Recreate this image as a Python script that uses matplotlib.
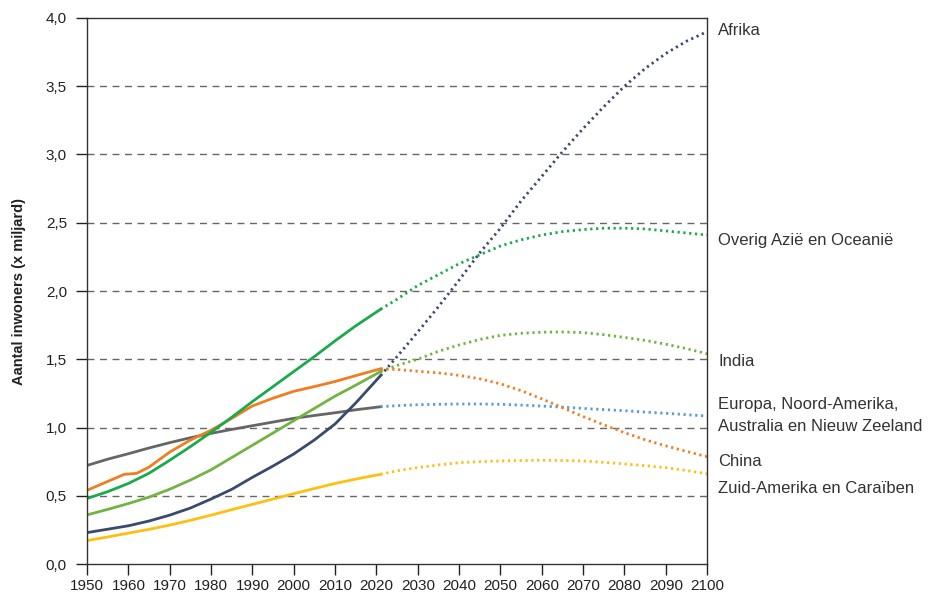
import matplotlib.pyplot as plt

plt.rcParams['font.family'] = ['Liberation Sans', 'DejaVu Sans']

# historie (doorgetrokken lijnen)
jaren_hist = [1950, 1955, 1960, 1965, 1970, 1975, 1980, 1985, 1990, 1995,
              2000, 2005, 2010, 2015, 2021]
afrika_hist = [0.23, 0.255, 0.28, 0.315, 0.358, 0.41, 0.476, 0.547, 0.635,
               0.718, 0.806, 0.909, 1.026, 1.18, 1.38]
azie_hist = [0.48, 0.53, 0.59, 0.665, 0.76, 0.86, 0.965, 1.075, 1.19, 1.30,
             1.41, 1.52, 1.635, 1.745, 1.866]
india_hist = [0.36, 0.40, 0.443, 0.49, 0.548, 0.615, 0.69, 0.78, 0.87, 0.96,
              1.05, 1.14, 1.23, 1.31, 1.41]
europa_hist = [0.722, 0.768, 0.808, 0.85, 0.889, 0.925, 0.957, 0.986, 1.013,
               1.04, 1.067, 1.088, 1.108, 1.13, 1.152]
zuidam_hist = [0.172, 0.198, 0.226, 0.254, 0.285, 0.32, 0.358, 0.398, 0.437,
               0.476, 0.515, 0.553, 0.59, 0.622, 0.657]

jaren_china = [1950, 1955, 1959, 1962, 1965, 1970, 1975, 1980, 1985, 1990,
               1995, 2000, 2005, 2010, 2015, 2021]
china_hist = [0.54, 0.605, 0.657, 0.664, 0.71, 0.82, 0.908, 0.98, 1.067,
              1.158, 1.215, 1.265, 1.30, 1.337, 1.38, 1.43]

# prognose (stippellijnen)
jaren_prog = [2021, 2025, 2030, 2035, 2040, 2045, 2050, 2055, 2060, 2065,
              2070, 2075, 2080, 2085, 2090, 2095, 2100]
afrika_prog = [1.38, 1.52, 1.70, 1.885, 2.08, 2.28, 2.46, 2.66, 2.84, 3.02,
               3.19, 3.35, 3.50, 3.63, 3.74, 3.83, 3.90]
azie_prog = [1.866, 1.94, 2.04, 2.12, 2.20, 2.265, 2.33, 2.375, 2.41, 2.435,
             2.45, 2.46, 2.46, 2.455, 2.44, 2.425, 2.41]
india_prog = [1.41, 1.455, 1.50, 1.558, 1.605, 1.645, 1.675, 1.69, 1.698,
              1.70, 1.695, 1.68, 1.66, 1.638, 1.61, 1.578, 1.54]
china_prog = [1.43, 1.425, 1.412, 1.40, 1.382, 1.357, 1.32, 1.27, 1.21,
              1.145, 1.08, 1.02, 0.962, 0.91, 0.865, 0.825, 0.786]
europa_prog = [1.152, 1.16, 1.167, 1.17, 1.172, 1.172, 1.17, 1.164, 1.157,
               1.149, 1.14, 1.131, 1.123, 1.113, 1.104, 1.094, 1.084]
zuidam_prog = [0.657, 0.683, 0.706, 0.726, 0.742, 0.75, 0.755, 0.758, 0.76,
               0.758, 0.755, 0.745, 0.733, 0.72, 0.706, 0.685, 0.66]

labels = ['Afrika', 'Overig Azië en Oceanië', 'India',
          'Europa, Noord-Amerika,\nAustralia en Nieuw Zeeland', 'China',
          'Zuid-Amerika en Caraïben']
label_y = [3.91, 2.37, 1.48, 1.09, 0.75, 0.555]

fig = plt.figure(figsize=(9.41, 5.94), dpi=100)
ax = fig.add_axes([0.0925, 0.0505, 0.659, 0.9192])

dot = (0, (0.8, 1.3))
lw = 2.0

ax.plot(jaren_hist, zuidam_hist, color='#fcbf12', lw=lw)
ax.plot(jaren_prog, zuidam_prog, color='#fcbf12', lw=lw, ls=dot)
ax.plot(jaren_hist, europa_hist, color='#666666', lw=lw)
ax.plot(jaren_prog, europa_prog, color='#5b9bd5', lw=lw, ls=dot)
ax.plot(jaren_hist, afrika_hist, color='#3a4a6b', lw=lw)
ax.plot(jaren_prog, afrika_prog, color='#3a4a6b', lw=lw, ls=dot)
ax.plot(jaren_hist, india_hist, color='#72b443', lw=lw)
ax.plot(jaren_prog, india_prog, color='#72b443', lw=lw, ls=dot)
ax.plot(jaren_china, china_hist, color='#f07d22', lw=lw)
ax.plot(jaren_prog, china_prog, color='#f07d22', lw=lw, ls=dot)
ax.plot(jaren_hist, azie_hist, color='#1aaa4b', lw=lw)
ax.plot(jaren_prog, azie_prog, color='#1aaa4b', lw=lw, ls=dot)

ax.set_xlim(1950, 2100)
ax.set_ylim(0, 4)
ax.set_xticks(range(1950, 2101, 10))
yt = [i * 0.5 for i in range(9)]
ax.set_yticks(yt)
ax.set_yticklabels([f'{v:.1f}'.replace('.', ',') for v in yt])
ax.tick_params(axis='both', labelsize=11, colors='#222222', length=8,
               width=1, direction='out')
ax.tick_params(axis='x', pad=2.5)
ax.tick_params(axis='y', pad=6.5)
for t in ax.get_xticklines() + ax.get_yticklines():
    t.set_color('#666666')

for v in yt[1:-1]:
    ax.axhline(v, color='#666666', lw=1, ls=(0, (5, 4)), zorder=0)

for s in ax.spines.values():
    s.set_color('#333333')
    s.set_linewidth(1)

ax.set_ylabel('Aantal inwoners (x miljard)', fontsize=10.5, fontweight='bold',
              color='#222222', labelpad=14)

for txt, y in zip(labels, label_y):
    ax.text(1.018, y, txt, transform=ax.get_yaxis_transform(), fontsize=12,
            color='#333333', va='center', ha='left', linespacing=1.55)

fig.savefig('out.png', dpi=100)
